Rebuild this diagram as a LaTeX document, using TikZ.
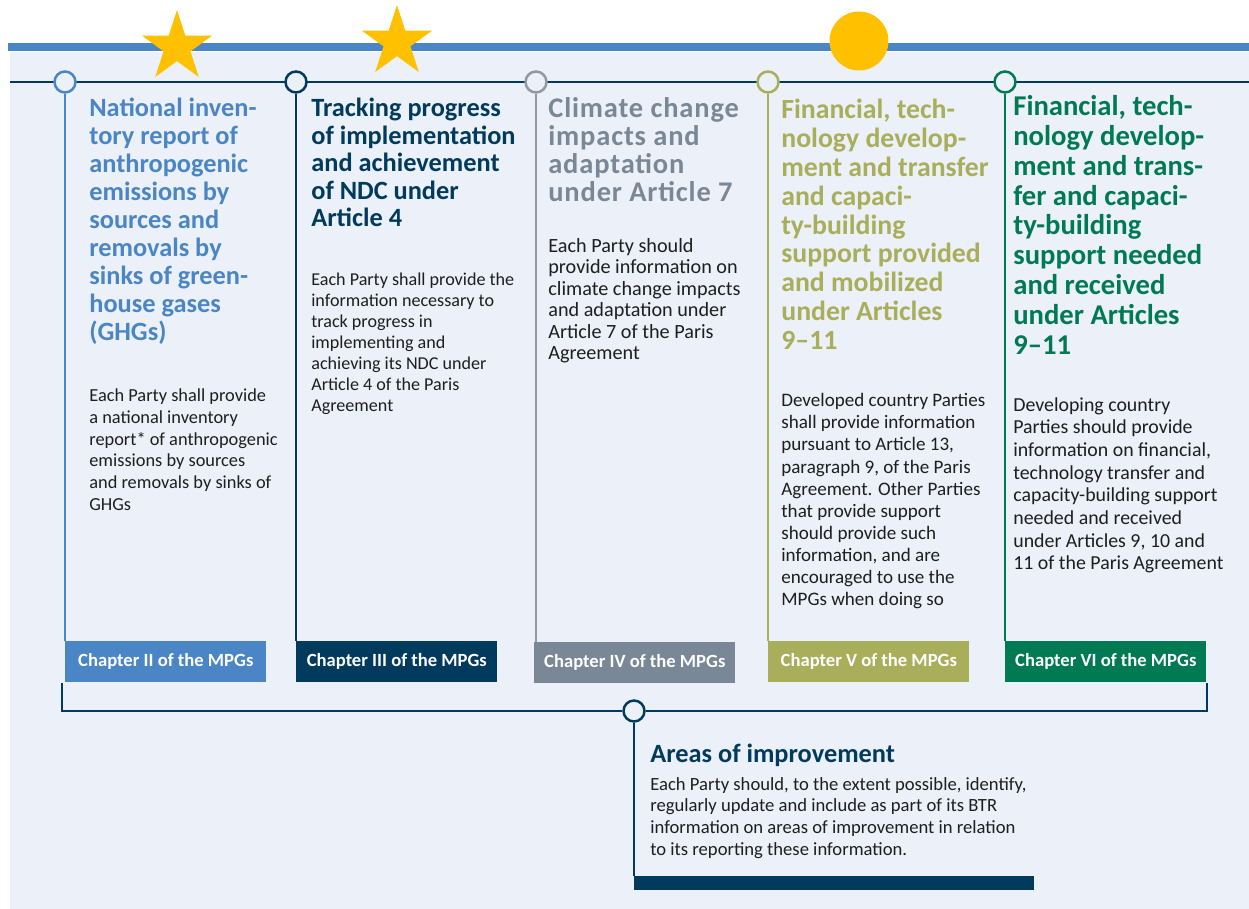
\documentclass[tikz,border=0pt]{standalone}
\usepackage{fontspec}
\setmainfont{Carlito}
\newfontfamily\widefont[LetterSpace=3]{Carlito}
\usetikzlibrary{shapes.geometric}

\definecolor{panel}{HTML}{ECF0F8}
\definecolor{barblue}{HTML}{4A86C5}
\definecolor{navy}{HTML}{003A5D}
\definecolor{slate}{HTML}{7A8796}
\definecolor{slateline}{HTML}{8E99A5}
\definecolor{olive}{HTML}{A9AE5B}
\definecolor{forest}{HTML}{007A53}
\definecolor{sun}{HTML}{FFC000}
\definecolor{ink}{HTML}{1E1E1E}

\tikzset{
  dot/.style={circle, draw=#1, fill=panel, line width=1.4pt, minimum size=0.42cm, inner sep=0},
  chap/.style={fill=#1, text=white, font=\bfseries\fontsize{10.6}{12}\selectfont,
    minimum width=4.02cm, minimum height=0.82cm, anchor=north west, inner sep=0},
  title/.style={anchor=north west, align=left, inner sep=0, text=#1,
    font=\bfseries\fontsize{15}{15.9}\selectfont},
  body/.style={anchor=north west, align=left, inner sep=0, text=ink,
    font=\fontsize{10.6}{12.5}\selectfont},
  stem/.style={draw=#1, line width=1.2pt},
  sunstar/.style={star, star points=5, star point ratio=2.618, fill=sun,
    minimum size=1.48cm, inner sep=0}
}

\begin{document}
\begin{tikzpicture}[x=0.02cm, y=-0.02cm]
\useasboundingbox (0,0) rectangle (1249,909);

% panel and top bar
\fill[panel] (10,52) rectangle (1249,909);
\fill[barblue] (8,43) rectangle (1249,51);
\node[sunstar] (star1) at (177,47) {};
\node[sunstar] (star2) at (397,42) {};
\node[circle, fill=sun, minimum size=1.18cm, inner sep=0] (sun) at (859,41) {};

% timeline
\coordinate (tl) at (10,82);
\coordinate (tr) at (1249,82);
\draw[stem=navy] (tl) -- (tr);

\node[dot=barblue] (c1) at (65,82) {};
\node[dot=navy] (c2) at (296,82) {};
\node[dot=slateline] (c3) at (536,82) {};
\node[dot=olive] (c4) at (768,82) {};
\node[dot=forest] (c5) at (1005,82) {};

\node[chap=barblue] (ch2) at (65,641) {Chapter II of the MPGs};
\node[chap=navy] (ch3) at (296,641) {Chapter III of the MPGs};
\node[chap=slate] (ch4) at (534,642) {Chapter IV of the MPGs};
\node[chap=olive] (ch5) at (768,641) {Chapter V of the MPGs};
\node[chap=forest] (ch6) at (1005,641) {Chapter VI of the MPGs};

\draw[stem=barblue] (c1) -- (c1 |- ch2.north);
\draw[stem=navy] (c2) -- (c2 |- ch3.north);
\draw[stem=slateline] (c3) -- (c3 |- ch4.north);
\draw[stem=olive] (c4) -- (c4 |- ch5.north);
\draw[stem=forest] (c5) -- (c5 |- ch6.north);

% columns
\node[title=barblue] (t1) at (89,98) {National inven-\\tory report of\\anthropogenic\\emissions by\\sources and\\removals by\\sinks of green-\\house gases\\(GHGs)};
\node[body, font=\fontsize{10.45}{12.5}\selectfont] (b1) at (89,388) {Each Party shall provide\\a national inventory\\report* of anthropogenic\\emissions by sources\\and removals by sinks of\\GHGs};

\node[title=navy, font=\bfseries\fontsize{15}{15.6}\selectfont] (t2) at (311,98) {Tracking progress\\of implementation\\and achievement\\of NDC under\\Article 4};
\node[body, font=\fontsize{10.3}{11.9}\selectfont] (b2) at (311,273) {Each Party shall provide the\\information necessary to\\track progress in\\implementing and\\achieving its NDC under\\Article 4 of the Paris\\Agreement};

\node[title=slate, font=\widefont\bfseries\fontsize{16.2}{15.9}\selectfont] (t3) at (548,97) {Climate change\\impacts and\\adaptation\\under Article 7};
\node[body, font=\fontsize{11.5}{12.2}\selectfont] (b3) at (548,238) {Each Party should\\provide information on\\climate change impacts\\and adaptation under\\Article 7 of the Paris\\Agreement};

\node[title=olive, font=\bfseries\fontsize{15.8}{16.4}\selectfont] (t4) at (781,99) {Financial, tech-\\nology develop-\\ment and transfer\\and capaci-\\ty-building\\support provided\\and mobilized\\under Articles\\9--11};
\node[body, font=\fontsize{10.85}{12.6}\selectfont] (b4) at (781,393) {Developed country Parties\\shall provide information\\pursuant to Article 13,\\paragraph 9, of the Paris\\Agreement. Other Parties\\that provide support\\should provide such\\information, and are\\encouraged to use the\\MPGs when doing so};

\node[title=forest, font=\bfseries\fontsize{16.3}{17}\selectfont] (t5) at (1013,95) {Financial, tech-\\nology develop-\\ment and trans-\\fer and capaci-\\ty-building\\support needed\\and received\\under Articles\\9--11};
\node[body, font=\fontsize{11.3}{12.9}\selectfont] (b5) at (1013,397) {Developing country\\Parties should provide\\information on financial,\\technology transfer and\\capacity-building support\\needed and received\\under Articles 9, 10 and\\11 of the Paris Agreement};

% areas of improvement
\node[dot=navy] (c6) at (634,711) {};
\draw[stem=navy] ([xshift=-0.06cm]ch2.south west) |- (c6.west);
\draw[stem=navy] (c6.east) -| (ch6.south east);
\node[fill=navy, minimum width=8cm, minimum height=0.28cm, anchor=north west, inner sep=0] (bar) at (634,876) {};
\draw[stem=navy] (c6) -- (c6 |- bar.north);

\node[title=navy] (t6) at (650,744) {Areas of improvement};
\node[body, font=\fontsize{10.6}{12.3}\selectfont] (b6) at (650,777) {Each Party should, to the extent possible, identify,\\regularly update and include as part of its BTR\\information on areas of improvement in relation\\to its reporting these information.};
\end{tikzpicture}
\end{document}
